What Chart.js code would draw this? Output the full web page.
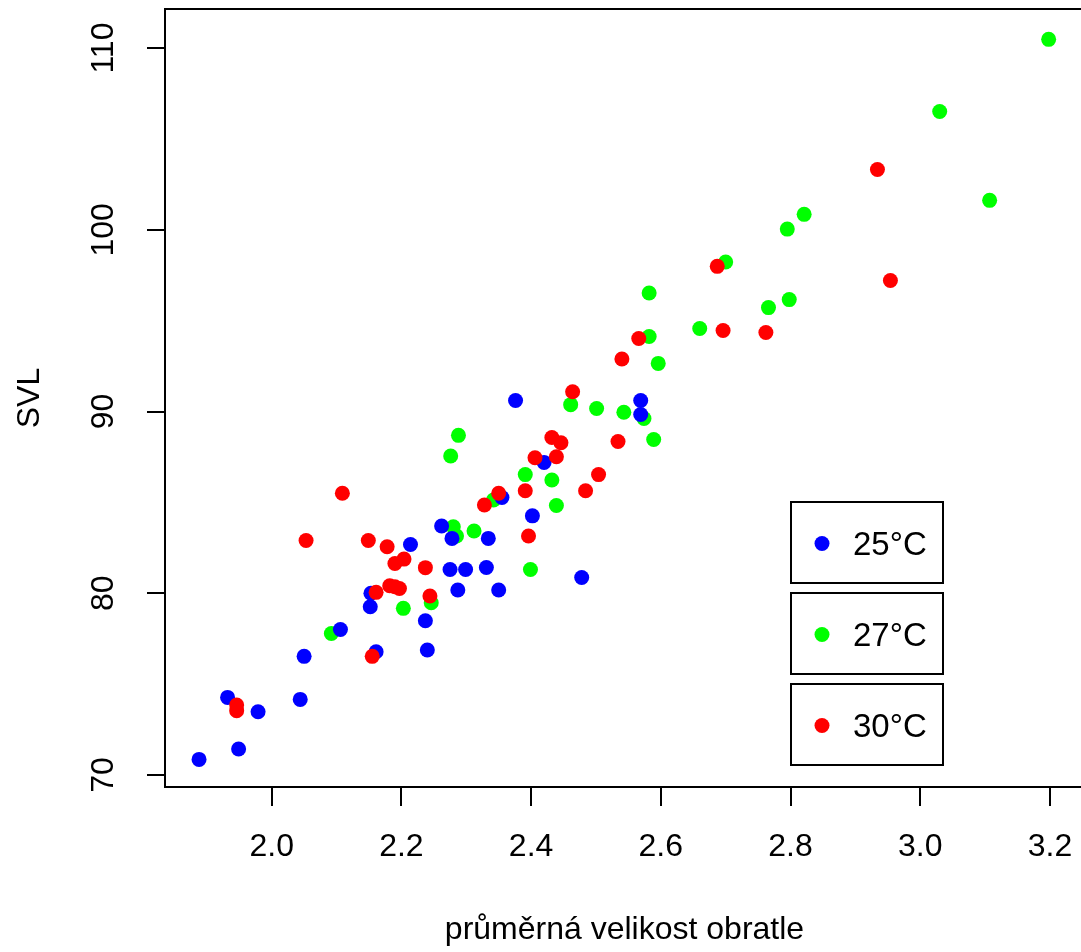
<!DOCTYPE html>
<html><head><meta charset="utf-8">
<script src="https://cdn.jsdelivr.net/npm/chart.js@4/dist/chart.umd.min.js"></script>
<style>
html,body{margin:0;padding:0;overflow:hidden;background:#fff;width:1081px;height:952px}
#wrap{position:absolute;left:0;top:0;width:1092px;height:952px}
</style></head>
<body><div id="wrap"><canvas id="c" width="1092" height="952"></canvas></div>
<script>
// ---- data ----
const xTicks = [2.0, 2.2, 2.4, 2.6, 2.8, 3.0, 3.2];
const yTicks = [70, 80, 90, 100, 110];
const seriesNames = ['25°C', '27°C', '30°C'];
const xTitle = 'průměrná velikost obratle';
const yTitle = 'SVL';

const x25 = [1.888,1.949,1.932,1.979,2.044,2.050,2.106,2.161,2.240,2.237,2.152,2.153,2.287,2.350,2.275,2.299,2.331,2.214,2.278,2.334,2.262,2.402,2.355,2.420,2.376,2.569,2.569,2.478];
const y25 = [70.86,71.43,74.27,73.48,74.16,76.53,78.01,76.78,76.88,78.49,79.26,80.00,80.18,80.18,81.31,81.31,81.42,82.68,83.02,83.02,83.70,84.26,85.27,87.20,90.61,90.61,89.84,80.87];

const x27 = [2.092,2.203,2.246,2.285,2.280,2.312,2.288,2.276,2.342,2.399,2.439,2.432,2.391,2.461,2.501,2.543,2.574,2.589,2.596,2.582,2.660,2.582,2.700,2.766,2.798,2.795,2.821,3.107,3.030,3.198];
const y27 = [77.79,79.17,79.48,83.15,83.66,83.43,88.69,87.55,85.13,81.31,84.83,86.23,86.53,90.38,90.17,89.96,89.62,88.46,92.65,94.13,94.57,96.52,98.23,95.72,96.16,100.04,100.85,101.62,106.51,110.48];

const x30 = [1.946,1.946,2.053,2.109,2.149,2.155,2.161,2.178,2.182,2.190,2.197,2.190,2.204,2.237,2.244,2.328,2.350,2.396,2.391,2.406,2.439,2.432,2.446,2.464,2.484,2.504,2.534,2.540,2.566,2.687,2.696,2.762,2.934,2.954];
const y30 = [73.85,73.54,82.90,85.50,82.90,76.53,80.05,82.56,80.41,80.36,80.26,81.64,81.88,81.41,79.85,84.86,85.50,83.15,85.64,87.46,87.51,88.57,88.28,91.09,85.64,86.53,88.35,92.89,94.02,97.99,94.46,94.35,103.32,97.21];

const colors = ['#0000FF', '#00FF00', '#FF0000'];

const toPts = (xs, ys) => xs.map((x, i) => ({x: x, y: ys[i]}));

const FONT = "'Liberation Sans', Arial, Helvetica, sans-serif";

const boxPlugin = {
  id: 'boxPlugin',
  afterDraw(chart) {
    const ctx = chart.ctx, a = chart.chartArea;
    ctx.save();
    ctx.strokeStyle = '#000';
    ctx.lineWidth = 2;
    ctx.strokeRect(a.left, a.top, a.right - a.left, a.bottom - a.top);
    // legend: three separate boxes
    const bx = 791, bw = 152, tops = [502, 593, 684], bh = 81;
    ctx.font = '33px ' + FONT;
    ctx.textBaseline = 'middle';
    ctx.textAlign = 'left';
    seriesNames.forEach((name, i) => {
      ctx.lineWidth = 2;
      ctx.strokeStyle = '#000';
      ctx.fillStyle = '#fff';
      ctx.fillRect(bx, tops[i], bw, bh);
      ctx.strokeRect(bx, tops[i], bw, bh);
      const cy = tops[i] + bh / 2 + 1;
      ctx.beginPath();
      ctx.fillStyle = colors[i];
      ctx.arc(822, cy, 7.5, 0, Math.PI * 2);
      ctx.fill();
      ctx.fillStyle = '#000';
      ctx.fillText(name, 853, cy + 2);
    });
    ctx.restore();
  }
};

new Chart(document.getElementById('c'), {
  type: 'scatter',
  data: {
    datasets: [
      {label: seriesNames[0], data: toPts(x25, y25), backgroundColor: colors[0], borderWidth: 0, pointRadius: 7.5, order: 2},
      {label: seriesNames[1], data: toPts(x27, y27), backgroundColor: colors[1], borderWidth: 0, pointRadius: 7.5, order: 3},
      {label: seriesNames[2], data: toPts(x30, y30), backgroundColor: colors[2], borderWidth: 0, pointRadius: 7.5, order: 1}
    ]
  },
  options: {
    responsive: false,
    animation: false,
    devicePixelRatio: 1,
    layout: {padding: {left: 0, top: 9, right: 8, bottom: 0}},
    plugins: {legend: {display: false}, tooltip: {enabled: false}},
    scales: {
      x: {
        type: 'linear',
        min: 1.8355, max: 3.2525,
        afterBuildTicks: s => { s.ticks = xTicks.map(v => ({value: v})); },
        afterFit: s => { s.height = 165; s.paddingLeft = 0; s.paddingRight = 0; },
        border: {display: false},
        grid: {display: true, drawOnChartArea: false, drawTicks: true, tickLength: 19, color: '#000', lineWidth: 2},
        ticks: {
          color: '#000', padding: 22, maxRotation: 0, autoSkip: false,
          font: {family: FONT, size: 32},
          callback: v => Number(v).toFixed(1)
        },
        title: {display: true, text: xTitle, color: '#000', font: {family: FONT, size: 32}, padding: {top: 0, bottom: 3}}
      },
      y: {
        type: 'linear',
        min: 69.34, max: 112.15,
        afterBuildTicks: s => { s.ticks = yTicks.map(v => ({value: v})); },
        afterFit: s => { s.width = 165; s.paddingTop = 0; s.paddingBottom = 0; },
        border: {display: false},
        grid: {display: true, drawOnChartArea: false, drawTicks: true, tickLength: 18, color: '#000', lineWidth: 2},
        ticks: {
          color: '#000', padding: 16, minRotation: 90, maxRotation: 90, crossAlign: 'center', autoSkip: false,
          font: {family: FONT, size: 32},
          callback: v => String(v)
        },
        title: {display: true, text: yTitle, color: '#000', font: {family: FONT, size: 32}, padding: {top: 11, bottom: 0}}
      }
    }
  },
  plugins: [boxPlugin]
});
</script>
</body></html>
